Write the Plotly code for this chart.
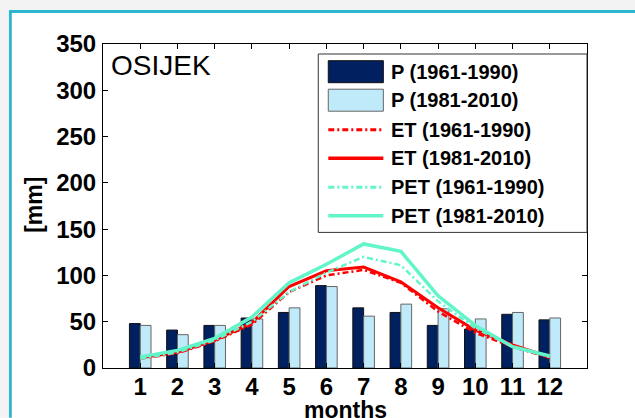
import plotly.graph_objects as go

months = list(range(1, 13))
month_labels = [str(m) for m in months]
P_1961 = [48, 41, 46, 54, 60, 89, 65, 60, 46, 42, 58, 52]
P_1981 = [46, 36, 46, 53, 65, 88, 56, 69, 64, 53, 60, 54]
ET_1961 = [10, 16, 29, 47, 82, 100, 106, 92, 61, 38, 23, 11]
ET_1981 = [11, 17, 30, 49, 88, 105, 109, 93, 65, 41, 25, 12]
PET_1961 = [10, 17, 30, 50, 82, 103, 120, 111, 72, 43, 23, 12]
PET_1981 = [12, 19, 32, 55, 92, 112, 134, 126, 78, 46, 23, 13]
y_ticks = [0, 50, 100, 150, 200, 250, 300, 350]

W, H = 635, 418
L, R, T, B = 103.3, 586.7, 44.3, 368.3

def px(x):
    return (x - L) / (R - L)

def py(y):
    return (B - y) / (B - T)

NAVY = "#002060"
LIGHT = "#bfeaf9"
AQUA = "#62f5c9"
RED = "#ff0000"
FONT = "Liberation Sans"
DASHDOT = "6px,3px,2px,3px"
PAGE = "#f3f3f3"

fig = go.Figure()
fig.add_trace(go.Bar(x=months, y=P_1961, name="P (1961-1990)",
                     marker=dict(color=NAVY, line=dict(color="#111111", width=1))))
fig.add_trace(go.Bar(x=months, y=P_1981, name="P (1981-2010)",
                     marker=dict(color=LIGHT, line=dict(color="#666666", width=1))))
fig.add_trace(go.Scatter(x=months, y=ET_1961, mode="lines", name="ET (1961-1990)",
                         line=dict(color=RED, width=2.5, dash=DASHDOT)))
fig.add_trace(go.Scatter(x=months, y=ET_1981, mode="lines", name="ET (1981-2010)",
                         line=dict(color=RED, width=3)))
fig.add_trace(go.Scatter(x=months, y=PET_1961, mode="lines", name="PET (1961-1990)",
                         line=dict(color=AQUA, width=2.5, dash=DASHDOT)))
fig.add_trace(go.Scatter(x=months, y=PET_1981, mode="lines", name="PET (1981-2010)",
                         line=dict(color=AQUA, width=3.5)))

shapes = []
annotations = []
# page surround (top and left strips) and cyan frame edges
shapes.append(dict(type="rect", xref="paper", yref="paper", layer="below",
                   x0=px(0), x1=px(W), y0=py(0), y1=py(10.5),
                   fillcolor=PAGE, line=dict(width=0)))
shapes.append(dict(type="rect", xref="paper", yref="paper", layer="below",
                   x0=px(0), x1=px(9.5), y0=py(0), y1=py(H),
                   fillcolor=PAGE, line=dict(width=0)))
shapes.append(dict(type="line", xref="paper", yref="paper", layer="below",
                   x0=px(9.5), x1=px(W), y0=py(11.8), y1=py(11.8),
                   line=dict(color="#2bb5d1", width=2.8)))
shapes.append(dict(type="line", xref="paper", yref="paper", layer="below",
                   x0=px(10.8), x1=px(10.8), y0=py(10.5), y1=py(H),
                   line=dict(color="#2bb5d1", width=2.8)))
# legend box
shapes.append(dict(type="rect", xref="paper", yref="paper", layer="above",
                   x0=px(318.3), x1=px(586.7), y0=py(54.3), y1=py(232.7),
                   fillcolor="white", line=dict(color="#333333", width=1)))

legend_items = [
    ("P (1961-1990)", "bar", NAVY, "#111111", None, 72.0),
    ("P (1981-2010)", "bar", LIGHT, "#666666", None, 100.5),
    ("ET (1961-1990)", "line", RED, None, "dashdot", 130.0),
    ("ET (1981-2010)", "line", RED, None, "solid", 158.5),
    ("PET (1961-1990)", "line", AQUA, None, "dashdot", 187.5),
    ("PET (1981-2010)", "line", AQUA, None, "solid", 216.0),
]
for text, kind, col, lc, dash, yc in legend_items:
    if kind == "bar":
        shapes.append(dict(type="rect", xref="paper", yref="paper", layer="above",
                           x0=px(328.3), x1=px(383.3), y0=py(yc - 11), y1=py(yc + 11),
                           fillcolor=col, line=dict(color=lc, width=1)))
    else:
        shapes.append(dict(type="line", xref="paper", yref="paper", layer="above",
                           x0=px(328.3), x1=px(383.3), y0=py(yc), y1=py(yc),
                           line=dict(color=col, width=3.5 if dash == "solid" else 3,
                                     dash="solid" if dash == "solid" else DASHDOT)))
    annotations.append(dict(text=text, xref="paper", yref="paper", x=px(388.5), y=py(yc),
                            xanchor="left", yanchor="middle", showarrow=False,
                            font=dict(family=FONT, size=20, color="black", weight="bold")))

annotations.append(dict(text="OSIJEK", xref="paper", yref="paper", x=px(109), y=py(66),
                        xanchor="left", yanchor="middle", showarrow=False,
                        font=dict(family=FONT, size=28, color="black")))
annotations.append(dict(text="months", xref="paper", yref="paper", x=px(345), y=py(410),
                        xanchor="center", yanchor="middle", showarrow=False,
                        font=dict(family=FONT, size=23, color="black", weight="bold")))
annotations.append(dict(text="[mm]", xref="paper", yref="paper", x=px(34.5), y=py(205),
                        xanchor="center", yanchor="middle", showarrow=False, textangle=-90,
                        font=dict(family=FONT, size=23, color="black", weight="bold")))

fig.update_layout(
    width=W, height=H,
    margin=dict(l=L, r=W - R, t=T, b=H - B, pad=0),
    paper_bgcolor="white", plot_bgcolor="white",
    barmode="group", bargap=0.42, bargroupgap=0,
    showlegend=False,
    shapes=shapes, annotations=annotations,
    xaxis=dict(range=[0, 13], tickvals=months, ticktext=month_labels,
               ticks="inside", ticklen=5, tickcolor="black",
               showline=True, mirror="ticks", linecolor="black", linewidth=1,
               showgrid=False, zeroline=False, ticklabelstandoff=-3,
               tickfont=dict(family=FONT, size=24, color="black", weight="bold")),
    yaxis=dict(range=[0, 350], tickvals=y_ticks,
               ticks="inside", ticklen=5, tickcolor="black",
               showline=True, mirror="ticks", linecolor="black", linewidth=1,
               showgrid=False, zeroline=False, ticklabelstandoff=1,
               tickfont=dict(family=FONT, size=24, color="black", weight="bold")),
)

fig.write_html(
    "out.html",
    config={"displayModeBar": False},
    post_script="document.documentElement.style.margin='0';"
                "document.body.style.margin='0';document.body.style.padding='0';"
                "document.body.style.height='418px';"
                "document.body.style.overflow='hidden';"
                "document.documentElement.style.overflow='hidden';"
                "document.documentElement.style.scrollbarWidth='none';"
                "document.body.style.scrollbarWidth='none';",
)
